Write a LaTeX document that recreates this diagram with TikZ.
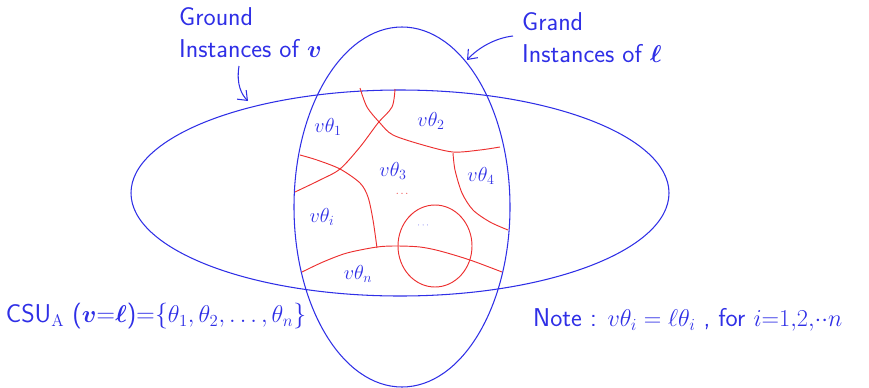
\documentclass[tikz,border=0pt]{standalone}
\usepackage{amsmath,amssymb}
\usepackage{bm}
\usepackage{tikz}
\usetikzlibrary{arrows.meta, positioning}
\definecolor{penblue}{HTML}{2F2FE6}
\definecolor{penred}{HTML}{EC2F2F}

\begin{document}
\begin{tikzpicture}[
  x=0.03cm, y=-0.03cm,
  outline/.style={draw=penblue, line width=0.9pt},
  cut/.style={draw=penred, line width=0.8pt},
  sub/.style={text=penblue, inner sep=0pt, font=\fontsize{18}{20}\selectfont},
  hand/.style={text=penblue, inner sep=0pt, align=left,
    font=\fontsize{22}{28}\selectfont\sffamily},
  >={Straight Barb[length=7pt, width=11pt]}
]
  \useasboundingbox (0,0) rectangle (869,387);

  % Ground instances
  \draw[outline] (400,193) ellipse [x radius=269, y radius=103];
  \draw[outline] (402,207) ellipse [x radius=108, y radius=180];

  % Partition of the overlap
  \draw[cut] plot[smooth] coordinates {(360,88) (367,107) (380,123) (393,135)
    (423,145) (453,152) (480,150) (500,147)};
  \draw[cut] plot[smooth] coordinates {(395,89) (392,107) (378,123) (360,147)
    (340,169) (320,180) (295,192)};
  \draw[cut] plot[smooth] coordinates {(300,155) (317,160) (340,169) (360,183)
    (368,197) (373,220) (377,248)};
  \draw[cut] plot[smooth] coordinates {(453,153) (455,170) (462,193) (473,210)
    (490,222) (508,230)};
  \draw[cut] plot[smooth] coordinates {(302,272) (323,262) (347,253) (377,247)
    (397,246) (420,247) (440,251) (470,260) (502,272)};
  \draw[cut] (435,246) ellipse [x radius=37, y radius=41];

  % Regions
  \foreach \nm/\pos/\txt in {th1/{(328,127)}/1, th2/{(431,121)}/2,
    th3/{(393,171)}/3, th4/{(481,176)}/4, thi/{(322,217)}/i, thn/{(358,274)}/n} {
    \node[sub] (\nm) at \pos {$v\theta_\txt$};
  }
  \node[text=penred, font=\small] (rdots) at (403,194) {$\cdots$};
  \node[text=penblue, font=\scriptsize] (bdots) at (424,226) {$\cdots$};

  % Titles
  \node[hand, anchor=north west] (vtitle) at (179,7) {Ground\\Instances of $\bm{v}$};
  \node[hand, anchor=north west] (ltitle) at (522,12) {Grand\\Instances of $\bm{\ell}$};
  \coordinate (vtail) at (239,66);
  \coordinate (vtip) at (248,101);
  \coordinate (ltail) at (513,36);
  \coordinate (ltip) at (467,60);
  \draw[outline, ->] (vtail) .. controls (236,85) and (242,95) .. (vtip);
  \draw[outline, ->] (ltail) .. controls (495,38) and (478,48) .. (ltip);

  % Bottom formulas
  \node[hand] (csu) at (156,316)
    {CSU$_\mathrm{A}$ ($\bm{v}$=$\bm{\ell}$)=\{$\theta_1, \theta_2, \ldots, \theta_n$\}};
  \node[hand, anchor=west] (note) at (533,320)
    {Note : $v\theta_i = \ell\theta_i$ , for $i{=}1{,}2{,}{\cdot}{\cdot}n$};
\end{tikzpicture}
\end{document}
